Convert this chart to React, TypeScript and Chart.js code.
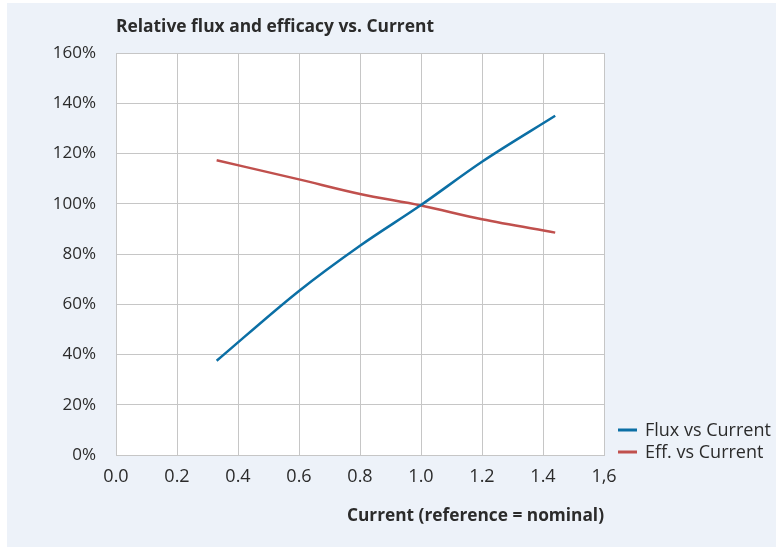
import React, { useEffect, useRef } from "react";
import { Chart, registerables } from "chart.js";

Chart.register(...registerables);

const chartTitle = "Relative flux and efficacy vs. Current";
const xAxisTitle = "Current (reference = nominal)";
const currentValues = [0.33, 0.6, 0.8, 1.0, 1.2, 1.44];
const fluxValues = [37.5, 65.3, 83.3, 99.5, 116.7, 135];
const efficacyValues = [117.3, 109.7, 103.9, 99.3, 93.8, 88.5];
const seriesLabels = ["Flux vs Current", "Eff. vs Current"];
const seriesColors = ["#0b6fa5", "#c0504d"];
const xTickLabels = ["0.0", "0.2", "0.4", "0.6", "0.8", "1.0", "1.2", "1.4", "1,6"];
const yTickValues = [0, 20, 40, 60, 80, 100, 120, 140, 160];

const FONT = "'Open Sans', 'DejaVu Sans', sans-serif";
const TEXT = "#2b2b2b";
const BG = "#edf2f9";

const decorPlugin = {
  id: "decor",
  beforeDraw(chart: any) {
    const { ctx, chartArea, width, height } = chart;
    ctx.save();
    ctx.fillStyle = "#ffffff";
    ctx.fillRect(0, 0, width, height);
    ctx.fillStyle = BG;
    ctx.fillRect(7, 3, width - 7, height - 3);
    ctx.fillStyle = "#ffffff";
    ctx.fillRect(chartArea.left, chartArea.top, chartArea.right - chartArea.left, chartArea.bottom - chartArea.top);
    ctx.restore();
  },
  afterDraw(chart: any) {
    const { ctx, chartArea } = chart;
    ctx.save();
    ctx.fillStyle = TEXT;
    ctx.textBaseline = "middle";
    ctx.textAlign = "left";
    ctx.font = `bold 17.4px ${FONT}`;
    ctx.fillText(chartTitle, chartArea.left, 27);
    // legend
    ctx.font = `18px ${FONT}`;
    chart.data.datasets.forEach((ds: any, i: number) => {
      const y = 430 + i * 22;
      ctx.strokeStyle = ds.borderColor;
      ctx.lineWidth = 3;
      ctx.beginPath();
      ctx.moveTo(618, y);
      ctx.lineTo(637, y);
      ctx.stroke();
      ctx.fillStyle = TEXT;
      ctx.fillText(ds.label, 645, y + 1);
    });
    ctx.restore();
  },
};

export default function App() {
  const ref = useRef<HTMLCanvasElement>(null);
  useEffect(() => {
    const datasets = [fluxValues, efficacyValues].map((vals, i) => ({
      label: seriesLabels[i],
      data: vals.map((v, j) => ({ x: currentValues[j], y: v })),
      borderColor: seriesColors[i],
      backgroundColor: seriesColors[i],
      borderWidth: 2.5,
      pointRadius: 0,
      cubicInterpolationMode: "monotone" as const,
      fill: false,
    }));
    const chart = new Chart(ref.current!, {
      type: "line",
      data: { datasets },
      options: {
        responsive: false,
        animation: false,
        layout: { padding: { left: 0, top: 53, right: 172, bottom: 0 } },
        plugins: { legend: { display: false }, title: { display: false }, tooltip: { enabled: false } },
        scales: {
          x: {
            type: "linear",
            min: 0,
            max: 1.6,
            afterBuildTicks: (s: any) => {
              s.ticks = xTickLabels.map((_, i) => ({ value: i * 0.2 }));
            },
            ticks: {
              color: TEXT,
              font: { family: FONT, size: 18 },
              padding: 11,
              maxRotation: 0,
              autoSkip: false,
              callback: (_v: any, i: number) => xTickLabels[i],
            },
            grid: { color: "#c6c6c6", lineWidth: 1, drawTicks: false },
            border: { display: true, color: "#c6c6c6" },
            title: {
              display: true,
              text: xAxisTitle,
              align: "end",
              color: TEXT,
              font: { family: FONT, size: 17.3, weight: "bold" },
              padding: { top: 0, bottom: 21 },
            },
            afterFit: (s: any) => {
              s.height = 92;
              s.paddingLeft = 0;
              s.paddingRight = 0;
            },
          },
          y: {
            min: 0,
            max: 160,
            afterBuildTicks: (s: any) => {
              s.ticks = yTickValues.map((v) => ({ value: v }));
            },
            ticks: {
              color: TEXT,
              font: { family: FONT, size: 17 },
              padding: 20,
              callback: (v: any) => `${v}%`,
            },
            grid: { color: "#c6c6c6", lineWidth: 1, drawTicks: false },
            border: { display: true, color: "#c6c6c6" },
            afterFit: (s: any) => {
              s.width = 116;
              s.paddingTop = 0;
              s.paddingBottom = 0;
            },
          },
        },
      },
      plugins: [decorPlugin],
    });
    return () => chart.destroy();
  }, []);
  return (
    <div style={{ position: "absolute", left: 0, top: 0, width: 776, height: 547 }}>
      <canvas ref={ref} width={776} height={547} style={{ display: "block", width: 776, height: 547 }} />
    </div>
  );
}
